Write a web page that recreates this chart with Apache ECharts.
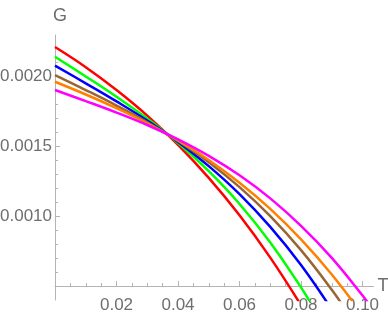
<!DOCTYPE html>
<html><head><meta charset="utf-8">
<script src="https://cdn.jsdelivr.net/npm/echarts@6/dist/echarts.min.js"></script>
<style>html,body{margin:0;padding:0;background:#fff}#c{width:388px;height:319px}</style>
</head><body><div id="c"></div>
<script>
// ---- data ----
const T_RED = [0, 0.01, 0.02, 0.03, 0.04, 0.05, 0.06, 0.07, 0.08];
const G_RED = [0.002207, 0.002063, 0.001900, 0.001717, 0.001508, 0.001272, 0.001005, 0.000703, 0.000363];
const T_GREEN = [0, 0.01, 0.02, 0.03, 0.04, 0.05, 0.06, 0.07, 0.08, 0.084];
const G_GREEN = [0.002138, 0.001997, 0.001852, 0.001696, 0.001521, 0.001320, 0.001086, 0.000811, 0.000490, 0.000346];
const T_BLUE = [0, 0.01, 0.02, 0.03, 0.04, 0.05, 0.06, 0.07, 0.08, 0.09];
const G_BLUE = [0.002074, 0.001948, 0.001819, 0.001682, 0.001529, 0.001356, 0.001156, 0.000922, 0.000650, 0.000332];
const T_BROWN = [0, 0.01, 0.02, 0.03, 0.04, 0.05, 0.06, 0.07, 0.08, 0.09, 0.095];
const G_BROWN = [0.002007, 0.001900, 0.001789, 0.001670, 0.001536, 0.001384, 0.001206, 0.000999, 0.000756, 0.000473, 0.000314];
const T_ORANGE = [0, 0.01, 0.02, 0.03, 0.04, 0.05, 0.06, 0.07, 0.08, 0.09, 0.1];
const G_ORANGE = [0.001959, 0.001868, 0.001770, 0.001662, 0.001540, 0.001400, 0.001238, 0.001051, 0.000833, 0.000582, 0.000294];
const T_MAGENTA = [0, 0.01, 0.02, 0.03, 0.04, 0.05, 0.06, 0.07, 0.08, 0.09, 0.1, 0.103];
const G_MAGENTA = [0.001900, 0.001821, 0.001739, 0.001650, 0.001548, 0.001430, 0.001291, 0.001126, 0.000930, 0.000701, 0.000432, 0.000343];

const X_MAJOR_TICKS = [0.02, 0.04, 0.06, 0.08, 0.10];
const X_MINOR_TICKS = [0.005, 0.01, 0.015, 0.025, 0.03, 0.035, 0.045, 0.05, 0.055, 0.065, 0.07, 0.075, 0.085, 0.09, 0.095];
const Y_MAJOR_TICKS = [0.0010, 0.0015, 0.0020];
const Y_MINOR_TICKS = [0.0006, 0.0007, 0.0008, 0.0009, 0.0011, 0.0012, 0.0013, 0.0014, 0.0016, 0.0017, 0.0018, 0.0019, 0.0021, 0.0022];
const X_NAME = 'T';
const Y_NAME = 'G';

// ---- layout / style ----
const X_MIN = 0, X_MAX = 0.1036, Y_MIN = 0.0004, Y_MAX = 0.002293, X_AXIS_AT = 0.0005;
const GRID = {left: 55, top: 35, width: 318.6, height: 265};
const xOffset = -((X_AXIS_AT - Y_MIN) / (Y_MAX - Y_MIN)) * GRID.height;
const FONT = "'Liberation Sans', Arial, sans-serif";
const LABEL_COLOR = '#6e6e6e';
const AXIS_COLOR = '#b4b4b4';
const tickText = {color: LABEL_COLOR, fontFamily: FONT, fontSize: 17};
const nameText = {color: LABEL_COLOR, fontFamily: FONT, fontSize: 18};

const curves = [
  [T_RED, G_RED, '#ff0000'],
  [T_GREEN, G_GREEN, '#00ff00'],
  [T_BLUE, G_BLUE, '#0000ff'],
  [T_BROWN, G_BROWN, '#996633'],
  [T_ORANGE, G_ORANGE, '#ff8000'],
  [T_MAGENTA, G_MAGENTA, '#ff00ff']
];

const chart = echarts.init(document.getElementById('c'), null, {renderer: 'canvas'});
const option = {
  animation: false,
  backgroundColor: '#fff',
  grid: Object.assign({containLabel: false, outerBoundsMode: 'none'}, GRID),
  xAxis: [
    {
      type: 'value', min: X_MIN, max: X_MAX, position: 'bottom', offset: xOffset,
      axisLine: {show: true, onZero: false, lineStyle: {color: AXIS_COLOR, width: 1}},
      axisTick: {show: true, inside: true, length: 5, customValues: X_MAJOR_TICKS, lineStyle: {color: AXIS_COLOR}},
      axisLabel: Object.assign({show: true, customValues: X_MAJOR_TICKS, margin: 11, formatter: v => v.toFixed(2)}, tickText),
      splitLine: {show: false},
      name: X_NAME, nameLocation: 'end', nameGap: 4, nameTextStyle: Object.assign({verticalAlign: 'middle'}, nameText)
    },
    {
      type: 'value', min: X_MIN, max: X_MAX, position: 'bottom', offset: xOffset,
      axisLine: {show: false, onZero: false},
      axisTick: {show: true, inside: true, length: 3, customValues: X_MINOR_TICKS, lineStyle: {color: AXIS_COLOR}},
      axisLabel: {show: false},
      splitLine: {show: false}
    }
  ],
  yAxis: [
    {
      type: 'value', min: Y_MIN, max: Y_MAX, position: 'left',
      axisLine: {show: true, onZero: false, lineStyle: {color: AXIS_COLOR, width: 1}},
      axisTick: {show: true, inside: true, length: 5, customValues: Y_MAJOR_TICKS, lineStyle: {color: AXIS_COLOR}},
      axisLabel: Object.assign({show: true, customValues: Y_MAJOR_TICKS, margin: 3, formatter: v => v.toFixed(4)}, tickText),
      splitLine: {show: false},
      name: Y_NAME, nameLocation: 'end', nameGap: 10, nameTextStyle: Object.assign({align: 'center', padding: [0, 0, 0, 10]}, nameText)
    },
    {
      type: 'value', min: Y_MIN, max: Y_MAX, position: 'left',
      axisLine: {show: false, onZero: false},
      axisTick: {show: true, inside: true, length: 3, customValues: Y_MINOR_TICKS, lineStyle: {color: AXIS_COLOR}},
      axisLabel: {show: false},
      splitLine: {show: false}
    }
  ],
  series: curves.map(([ts, gs, color]) => ({
    type: 'line',
    xAxisIndex: 0, yAxisIndex: 0,
    data: ts.map((t, i) => [t, gs[i]]),
    smooth: 0.4,
    showSymbol: false, symbol: 'none',
    clip: true,
    lineStyle: {color: color, width: 2.5},
    emphasis: {disabled: true}
  }))
};
chart.setOption(option);
</script>
</body></html>
